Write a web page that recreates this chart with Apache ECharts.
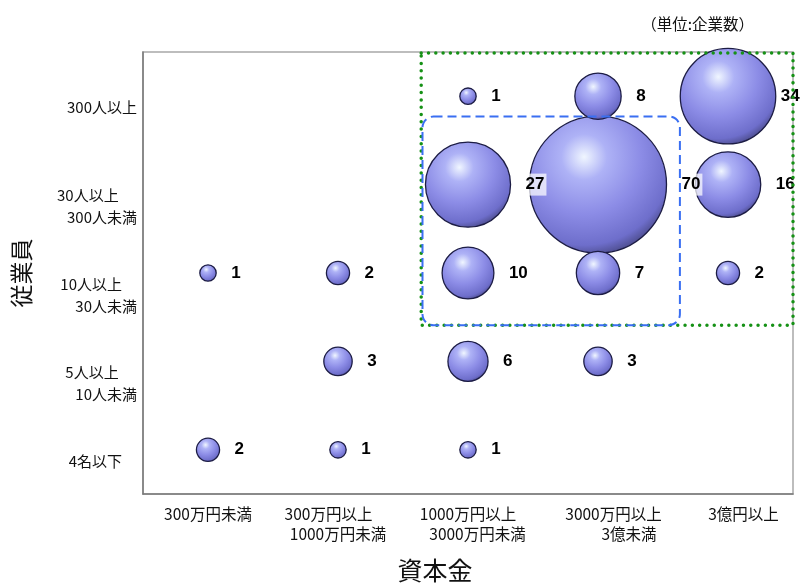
<!DOCTYPE html>
<html lang="ja">
<head>
    <meta charset="UTF-8">
    <title>資本金×従業員</title>
    <style type="text/css">
        body {
            margin: 0;
            background: #fff;
        }

        #bubbleChart {
            width: 803px;
            height: 584px;
        }
    </style>
    <script type="text/javascript" src="https://cdn.jsdelivr.net/npm/echarts@6/dist/echarts.min.js"></script>
</head>
<body>
    <div id="bubbleChart"></div>
</body>
</html>
<script type="text/javascript">
    // 資本金 (x) のカテゴリと表示用ラベル
    var capitalCats = ['300万円未満', '300万円以上1000万円未満', '1000万円以上3000万円未満', '3000万円以上3億未満', '3億円以上'];
    var capitalLabels = ['300万円未満', '300万円以上　 \n1000万円未満', '1000万円以上\n　 3000万円未満', '　　3000万円以上\n　　　　3億未満', '　　3億円以上'];

    // 従業員 (y) のカテゴリ、下から上へ
    var staffCats = ['4名以下', '5人以上10人未満', '10人以上30人未満', '30人以上300人未満', '300人以上'];
    var staffLabels = ['4名以下　', '5人以上　 \n10人未満', '10人以上　\n30人未満', '30人以上　 \n300人未満', '300人以上'];

    // 企業数 (資本金の順)
    var count4Under = [2, 1, 1, null, null];
    var count5to10 = [null, 3, 6, 3, null];
    var count10to30 = [1, 2, 10, 7, 2];
    var count30to300 = [null, null, 27, 70, 16];
    var count300Over = [null, null, 1, 8, 34];

    var rows = [count4Under, count5to10, count10to30, count30to300, count300Over];
    var bubbleData = [];
    for (var yi = 0; yi < rows.length; yi++) {
        for (var xi = 0; xi < rows[yi].length; xi++) {
            if (rows[yi][xi] != null) {
                var item = { value: [xi, yi, rows[yi][xi]] };
                if (rows[yi][xi] === 34) {
                    item.label = { distance: 3 };
                }
                bubbleData.push(item);
            }
        }
    }
    // 大きい球から描く
    bubbleData.sort(function (a, b) { return b.value[2] - a.value[2]; });

    function bubbleSize(val) {
        return 137 * Math.sqrt(val[2] / 70);
    }

    var ballColor = {
        type: 'radial',
        x: 0.4,
        y: 0.3,
        r: 0.75,
        colorStops: [
            { offset: 0, color: '#f0f6ff' },
            { offset: 0.22, color: '#aeb2f6' },
            { offset: 0.55, color: '#8c8ce6' },
            { offset: 0.85, color: '#6e6ecb' },
            { offset: 1, color: '#43437c' }
        ]
    };

    var chart = echarts.init(document.getElementById('bubbleChart'));
    var option = {
        animation: false,
        backgroundColor: '#fff',
        textStyle: {
            fontFamily: '"Noto Sans CJK JP", sans-serif'
        },
        title: {
            text: '（単位:企業数）',
            right: 44,
            top: 11,
            textStyle: {
                fontSize: 15.5,
                fontWeight: 'normal',
                color: '#111',
                fontFamily: '"Noto Sans CJK JP", sans-serif'
            }
        },
        grid: {
            left: 143,
            right: 10,
            top: 52,
            bottom: 90,
            outerBoundsMode: 'none',
            show: true,
            borderColor: '#a8a8a8',
            borderWidth: 1.5
        },
        xAxis: {
            type: 'category',
            data: capitalCats,
            name: '資本金',
            nameLocation: 'middle',
            nameGap: 64,
            nameTextStyle: {
                fontSize: 25,
                color: '#111',
                padding: [0, 66, 0, 0]
            },
            axisLine: { lineStyle: { color: '#7a7a7a', width: 1.5 } },
            axisTick: { show: false },
            splitLine: { show: false },
            axisLabel: {
                interval: 0,
                margin: 10,
                fontSize: 15.5,
                lineHeight: 20,
                color: '#111',
                formatter: function (value, idx) {
                    return capitalLabels[idx];
                }
            }
        },
        yAxis: {
            type: 'category',
            data: staffCats,
            name: '従業員',
            nameLocation: 'middle',
            nameRotate: 90,
            nameGap: 110,
            nameTextStyle: {
                fontSize: 23,
                color: '#111'
            },
            axisLine: { lineStyle: { color: '#7a7a7a', width: 1.5 } },
            axisTick: { show: false },
            splitLine: { show: false },
            axisLabel: {
                interval: 0,
                margin: 6,
                fontSize: 15,
                lineHeight: 22,
                verticalAlign: 'top',
                color: '#111',
                formatter: function (value, idx) {
                    return staffLabels[idx];
                }
            }
        },
        series: [{
            type: 'scatter',
            data: bubbleData,
            symbolSize: bubbleSize,
            itemStyle: {
                color: ballColor,
                borderColor: '#1c1c44',
                borderWidth: 1.3,
                opacity: 1
            },
            silent: true
        }, {
            // ラベルだけを球の上に載せる
            type: 'scatter',
            data: bubbleData,
            symbolSize: bubbleSize,
            z: 5,
            itemStyle: {
                color: 'rgba(0,0,0,0)',
                borderWidth: 0
            },
            label: {
                show: true,
                position: 'right',
                distance: 13,
                fontSize: 17,
                fontWeight: 'bold',
                color: '#000',
                opacity: 1,
                fontFamily: '"Liberation Sans", Arial, sans-serif',
                backgroundColor: 'rgba(255,255,255,0.72)',
                padding: [3, 2, 2, 2],
                formatter: function (p) {
                    return p.value[2];
                }
            },
            silent: true
        }]
    };
    chart.setOption(option);

    // 囲み枠 (座標はカテゴリの中心から求める)
    var c00 = chart.convertToPixel({ xAxisIndex: 0, yAxisIndex: 0 }, [0, 0]);
    var c11 = chart.convertToPixel({ xAxisIndex: 0, yAxisIndex: 0 }, [1, 1]);
    var bandW = c11[0] - c00[0];
    var bandH = c00[1] - c11[1];
    var c23 = chart.convertToPixel({ xAxisIndex: 0, yAxisIndex: 0 }, [2, 3]);
    var c32 = chart.convertToPixel({ xAxisIndex: 0, yAxisIndex: 0 }, [3, 2]);
    var c44 = chart.convertToPixel({ xAxisIndex: 0, yAxisIndex: 0 }, [4, 4]);

    var blueL = c23[0] - 0.35 * bandW, blueR = c32[0] + 0.63 * bandW;
    var blueT = c23[1] - 0.77 * bandH, blueB = c32[1] + 0.59 * bandH;
    var greenL = c23[0] - 0.36 * bandW, greenR = c44[0] + 0.5 * bandW;
    var greenT = c44[1] - 0.5 * bandH + 1, greenB = blueB;

    chart.setOption({
        graphic: [{
            type: 'rect',
            silent: true,
            z: 10,
            shape: { x: greenL, y: greenT, width: greenR - greenL, height: greenB - greenT },
            style: {
                fill: 'none',
                stroke: '#169116',
                lineWidth: 3.5,
                lineDash: [0, 7.3],
                lineCap: 'round'
            }
        }, {
            type: 'rect',
            silent: true,
            z: 11,
            shape: { x: blueL, y: blueT, width: blueR - blueL, height: blueB - blueT, r: 11 },
            style: {
                fill: 'none',
                stroke: '#3a6ff2',
                lineWidth: 2,
                lineDash: [9, 5]
            }
        }]
    });
</script>
